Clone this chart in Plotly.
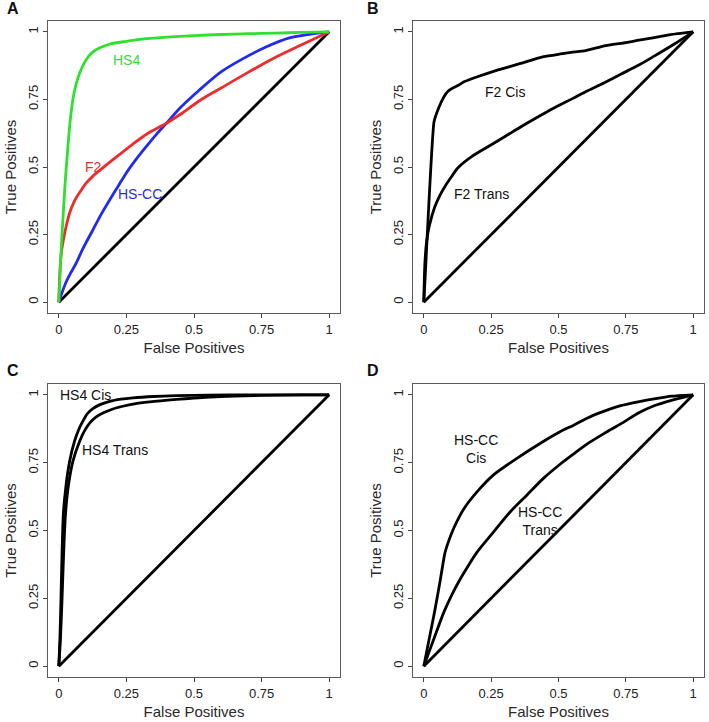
import plotly.graph_objects as go

# ---- data ----
diag = [0, 1]

# Panel A
hs4_x = [0, 0.005, 0.01, 0.016, 0.022, 0.03, 0.042, 0.052, 0.065, 0.08, 0.1, 0.125, 0.15, 0.19, 0.25, 0.3, 0.4, 0.5, 0.6, 0.7, 0.8, 0.9, 1]
hs4_y = [0, 0.12, 0.22, 0.32, 0.42, 0.53, 0.67, 0.75, 0.81, 0.855, 0.895, 0.925, 0.94, 0.955, 0.965, 0.972, 0.98, 0.986, 0.99, 0.993, 0.995, 0.998, 1]
f2_x = [0, 0.002, 0.005, 0.009, 0.015, 0.027, 0.04, 0.058, 0.08, 0.101, 0.13, 0.163, 0.2, 0.274, 0.33, 0.398, 0.45, 0.52, 0.6, 0.7, 0.8, 0.9, 1]
f2_y = [0, 0.07, 0.13, 0.18, 0.22, 0.28, 0.33, 0.375, 0.41, 0.44, 0.47, 0.497, 0.527, 0.585, 0.625, 0.662, 0.695, 0.745, 0.792, 0.85, 0.905, 0.953, 1]
hscc_x = [0, 0.01, 0.025, 0.045, 0.064, 0.09, 0.126, 0.155, 0.188, 0.22, 0.249, 0.285, 0.323, 0.36, 0.398, 0.45, 0.52, 0.6, 0.68, 0.768, 0.85, 0.92, 1]
hscc_y = [0, 0.03, 0.07, 0.11, 0.144, 0.2, 0.267, 0.322, 0.378, 0.43, 0.477, 0.527, 0.575, 0.62, 0.662, 0.72, 0.785, 0.852, 0.9, 0.945, 0.977, 0.99, 1]

# Panel B
f2cis_x = [0, 0.005, 0.038, 0.057, 0.075, 0.09, 0.106, 0.13, 0.149, 0.199, 0.273, 0.359, 0.445, 0.507, 0.546, 0.6, 0.67, 0.75, 0.793, 0.85, 0.916, 1]
f2cis_y = [0, 0.09, 0.667, 0.723, 0.76, 0.78, 0.791, 0.803, 0.815, 0.834, 0.858, 0.883, 0.908, 0.918, 0.924, 0.93, 0.948, 0.96, 0.968, 0.978, 0.99, 1]
f2trans_x = [0, 0.004, 0.01, 0.02, 0.041, 0.06, 0.078, 0.1, 0.127, 0.18, 0.238, 0.3, 0.361, 0.42, 0.485, 0.55, 0.608, 0.67, 0.731, 0.8, 0.855, 0.93, 1]
f2trans_y = [0, 0.14, 0.22, 0.28, 0.353, 0.395, 0.427, 0.46, 0.497, 0.54, 0.575, 0.612, 0.649, 0.683, 0.719, 0.752, 0.782, 0.812, 0.843, 0.878, 0.91, 0.955, 1]

# Panel C
hs4cis_x = [0, 0.004, 0.008, 0.012, 0.017, 0.027, 0.04, 0.058, 0.075, 0.089, 0.105, 0.126, 0.15, 0.188, 0.23, 0.274, 0.35, 0.435, 0.55, 0.7, 0.85, 1]
hs4cis_y = [0, 0.1, 0.25, 0.42, 0.564, 0.669, 0.755, 0.829, 0.875, 0.903, 0.93, 0.949, 0.963, 0.976, 0.984, 0.989, 0.994, 0.997, 0.999, 1, 1, 1]
hs4trans_x = [0, 0.006, 0.012, 0.018, 0.025, 0.036, 0.052, 0.077, 0.095, 0.114, 0.137, 0.163, 0.2, 0.237, 0.28, 0.336, 0.435, 0.5, 0.6, 0.75, 0.9, 1]
hs4trans_y = [0, 0.1, 0.25, 0.42, 0.564, 0.669, 0.755, 0.829, 0.867, 0.896, 0.918, 0.933, 0.948, 0.958, 0.967, 0.974, 0.983, 0.988, 0.994, 0.998, 1, 1]

# Panel D
hscccis_x = [0, 0.02, 0.04, 0.06, 0.078, 0.092, 0.112, 0.149, 0.199, 0.26, 0.347, 0.445, 0.507, 0.56, 0.608, 0.67, 0.731, 0.8, 0.855, 0.92, 1]
hscccis_y = [0, 0.1, 0.2, 0.31, 0.415, 0.46, 0.51, 0.58, 0.644, 0.706, 0.767, 0.829, 0.865, 0.89, 0.915, 0.94, 0.96, 0.975, 0.985, 0.995, 1]
hscctrans_x = [0, 0.015, 0.038, 0.075, 0.105, 0.137, 0.168, 0.199, 0.26, 0.322, 0.384, 0.445, 0.507, 0.56, 0.608, 0.67, 0.731, 0.8, 0.855, 0.916, 1]
hscctrans_y = [0, 0.04, 0.102, 0.2, 0.265, 0.324, 0.375, 0.422, 0.496, 0.57, 0.632, 0.693, 0.745, 0.785, 0.82, 0.858, 0.893, 0.935, 0.96, 0.979, 1]

tick_vals = [0, 0.25, 0.5, 0.75, 1]
tick_text = ["0", "0.25", "0.5", "0.75", "1"]
panel_letters = ["A", "B", "C", "D"]

FONT = "Liberation Sans, Arial, sans-serif"
GREEN, RED, BLUE, BLACK = "#2fe02f", "#ee2b2b", "#1f2bee", "#000000"
LW = 2.8

fig = go.Figure()


def add_line(x, y, color, n, smooth=0.0):
    sfx = "" if n == 1 else str(n)
    line = dict(color=color, width=LW)
    if smooth:
        line.update(shape="spline", smoothing=smooth)
    fig.add_trace(go.Scatter(x=x, y=y, mode="lines", line=line,
                             xaxis="x" + sfx, yaxis="y" + sfx, showlegend=False, hoverinfo="skip"))


# panel A
add_line(diag, diag, BLACK, 1)
add_line(hscc_x, hscc_y, BLUE, 1, 0.8)
add_line(f2_x, f2_y, RED, 1, 0.8)
add_line(hs4_x, hs4_y, GREEN, 1, 0.8)
# panel B
add_line(diag, diag, BLACK, 2)
add_line(f2trans_x, f2trans_y, BLACK, 2, 0.8)
add_line(f2cis_x, f2cis_y, BLACK, 2, 0.4)
# panel C
add_line(diag, diag, BLACK, 3)
add_line(hs4trans_x, hs4trans_y, BLACK, 3, 0.8)
add_line(hs4cis_x, hs4cis_y, BLACK, 3, 0.8)
# panel D
add_line(diag, diag, BLACK, 4)
add_line(hscctrans_x, hscctrans_y, BLACK, 4, 0.8)
add_line(hscccis_x, hscccis_y, BLACK, 4, 0.5)

W, H = 709, 722
xdom = [[48 / W, 340 / W], [413 / W, 704 / W]]
ydom = [[1 - 313 / H, 1 - 21 / H], [1 - 677 / H, 1 - 384 / H]]

common = dict(range=[-0.04, 1.04], tickvals=tick_vals, ticktext=tick_text,
              showgrid=False, zeroline=False, showline=True, mirror=True,
              linecolor="#5a5a5a", linewidth=1, ticks="outside", ticklen=4,
              tickcolor="#444444", tickfont=dict(family=FONT, size=13, color="#222222"),
              fixedrange=True)

layout = {}
for i in range(4):
    sfx = "" if i == 0 else str(i + 1)
    col, row = i % 2, i // 2
    layout["xaxis" + sfx] = dict(common, domain=xdom[col], anchor="y" + sfx,
                                 title=dict(text="False Positives", standoff=6,
                                            font=dict(family=FONT, size=15, color="#2a2a2a")))
    layout["yaxis" + sfx] = dict(common, domain=ydom[row], anchor="x" + sfx, tickangle=-90,
                                 title=dict(text="True Positives", standoff=5,
                                            font=dict(family=FONT, size=15, color="#2a2a2a")))

fig.update_layout(**layout)

annots = []
letter_pos = [(12.5, 8), (372.5, 8), (12.5, 370), (372.5, 370)]
for letter, (px, py) in zip(panel_letters, letter_pos):
    annots.append(dict(text="<b>" + letter + "</b>", x=px / W, y=1 - py / H, xref="paper", yref="paper",
                       xanchor="center", yanchor="middle", showarrow=False,
                       font=dict(family=FONT, size=16, color="#111111")))


def label(text, x, y, n, color="#111111"):
    sfx = "" if n == 1 else str(n)
    annots.append(dict(text=text, x=x, y=y, xref="x" + sfx, yref="y" + sfx, showarrow=False,
                       xanchor="center", yanchor="middle",
                       font=dict(family=FONT, size=14, color=color)))


label("HS4", 0.25, 0.895, 1, GREEN)
label("F2", 0.13, 0.50, 1, RED)
label("HS-CC", 0.30, 0.40, 1, BLUE)
label("F2 Cis", 0.30, 0.778, 2)
label("F2 Trans", 0.213, 0.40, 2)
label("HS4 Cis", 0.099, 1.0, 3)
label("HS4 Trans", 0.206, 0.797, 3)
label("HS-CC<br>Cis", 0.195, 0.80, 4)
label("HS-CC<br>Trans", 0.43, 0.536, 4)

fig.update_layout(width=W, height=H, margin=dict(l=0, r=0, t=0, b=0),
                  paper_bgcolor="white", plot_bgcolor="white", annotations=annots,
                  showlegend=False)

fig.write_html("out.html", config={"displayModeBar": False},
               post_script="document.body.style.margin='0';")
